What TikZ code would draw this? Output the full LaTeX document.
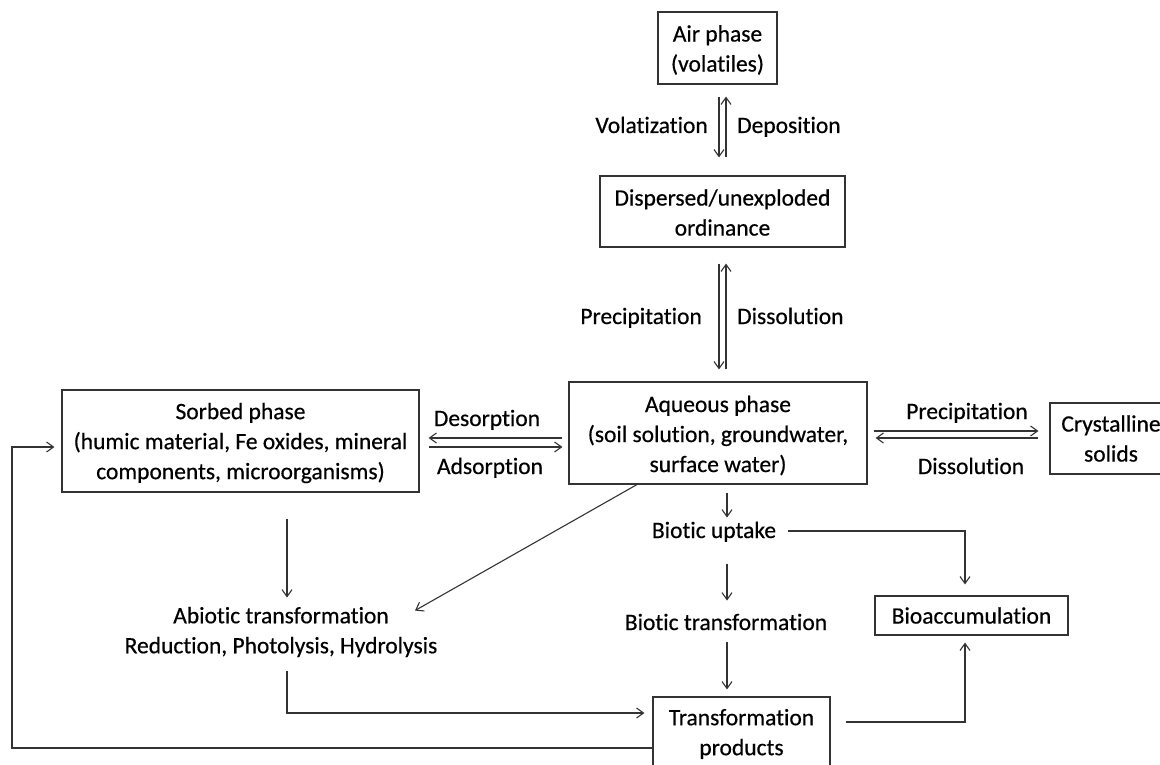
\documentclass[tikz,border=0pt]{standalone}
\usepackage{fontspec}
\setmainfont{Carlito}[Ligatures=NoCommon, FakeBold=0.5]
\usetikzlibrary{arrows.meta,calc}
\begin{document}
\begin{tikzpicture}[x=1pt,y=-1pt,
  every node/.style={font=\fontsize{23.5}{30}\selectfont, align=center, inner sep=0pt},
  box/.style={draw=black!80, line width=1.1pt, rectangle},
  arr/.style={draw=black!80, line width=1.1pt, -{Straight Barb[length=7pt,width=10pt,line width=1.1pt]}}]
\useasboundingbox[fill=white] (0,0) rectangle (1160,765);
% boxes
\node[box, minimum width=119, minimum height=72] (air) at (717.5,48) {};
\node (airtxt) at (717.5,50) {Air phase\\(volatiles)};
\node[box, minimum width=245, minimum height=71] (disp) at (722.5,211.5) {};
\node (disptxt) at (722.5,212.5) {Dispersed/unexploded\\ordinance};
\node[box, minimum width=298, minimum height=102] (aq) at (718,433) {};
\node (aqtxt) at (718,435.5) {Aqueous phase\\(soil solution, groundwater,\\surface water)};
\node[box, minimum width=357, minimum height=102] (sorb) at (240.5,441) {};
\node (sorbtxt) at (240.5,443) {Sorbed phase\\(humic material, Fe oxides, mineral\\components, microorganisms)};
\node[box, minimum width=122, minimum height=71] (cryst) at (1111,438.5) {Crystalline\\solids};
\node[box, minimum width=193, minimum height=39] (bioacc) at (971.5,615.5) {Bioaccumulation};
\node[box, minimum width=177, minimum height=80] (trans) at (741.5,737) {};
\node (transtxt) at (741.5,734) {Transformation\\products};
% text nodes
\node[anchor=base east] (volat) at (708,133) {Volatization};
\node[anchor=base west] (depos) at (737,133) {Deposition};
\node[anchor=base east] (precip1) at (702,324) {Precipitation};
\node[anchor=base west] (dissol1) at (737,324) {Dissolution};
\node[anchor=base] (desorp) at (487,426) {Desorption};
\node[anchor=base] (adsorp) at (490,474) {Adsorption};
\node[anchor=base] (precip2) at (967,419) {Precipitation};
\node[anchor=base] (dissol2) at (971,474) {Dissolution};
\node[anchor=base] (bup) at (714,538) {Biotic uptake};
\node[anchor=base] (btr) at (726,630) {Biotic transformation};
\node (abio) at (281,632) {Abiotic transformation\\Reduction, Photolysis, Hydrolysis};
% air <-> dispersed
\draw[arr] ($(air.south)+(1.5,12)$) -- ($(disp.north)+(-3.5,-18)$);
\draw[arr] ($(disp.north)+(3.5,-18)$) -- ($(air.south)+(8.5,12)$);
% dispersed <-> aqueous
\draw[arr] ($(disp.south)+(-3.5,16)$) -- ($(aq.north)+(1,-12)$);
\draw[arr] ($(aq.north)+(8,-12)$) -- ($(disp.south)+(3.5,16)$);
% sorbed <-> aqueous
\draw[arr] ($(aq.west)+(-6,5)$) -- ($(sorb.east)+(9,-3)$);
\draw[arr] ($(sorb.east)+(9,6)$) -- ($(aq.west)+(-6,14)$);
% aqueous <-> crystalline
\draw[arr] ($(aq.east)+(6,-2)$) -- ($(cryst.west)+(-11,-7.5)$);
\draw[arr] ($(cryst.west)+(-11,-0.5)$) -- ($(aq.east)+(8,5)$);
% aqueous -> biotic uptake
\draw[arr] ($(aq.south)+(9,8)$) -- ($(aq.south)+(9,33)$);
\coordinate (c1) at (965,531);
\draw[arr] ($(bup.east |- c1)+(12,0)$) -| ($(bioacc.north)+(-6.5,-11)$);
% biotic uptake -> biotic transformation -> products
\draw[arr] ($(aq.south)+(9,79)$) -- ($(aq.south)+(9,116)$);
\draw[arr] ($(trans.north)+(-14.5,-54)$) -- ($(trans.north)+(-14.5,-7)$);
% sorbed -> abiotic
\draw[arr] ($(sorb.south)+(46.5,26)$) -- ($(sorb.south)+(46.5,105)$);
% aqueous -> abiotic diagonal
\draw[arr] ($(aq.south)+(-81,0)$) -- ($(aq.south)+(-303,126)$);
% abiotic -> transformation
\coordinate (c2) at (287,713);
\draw[arr] ($(sorb.south)+(46.5,178)$) -- (c2) -- ($(trans.west)+(-8,-24)$);
% transformation -> bioaccumulation
\draw[arr] ($(trans.east)+(15,-15)$) -| ($(bioacc.south)+(-6.5,7)$);
% feedback
\coordinate (c4) at (12,748);
\coordinate (c5) at (12,447);
\draw[arr] ($(trans.west)+(0,11)$) -- (c4) -- (c5) -- ($(sorb.west)+(-7,6)$);
\end{tikzpicture}
\end{document}
